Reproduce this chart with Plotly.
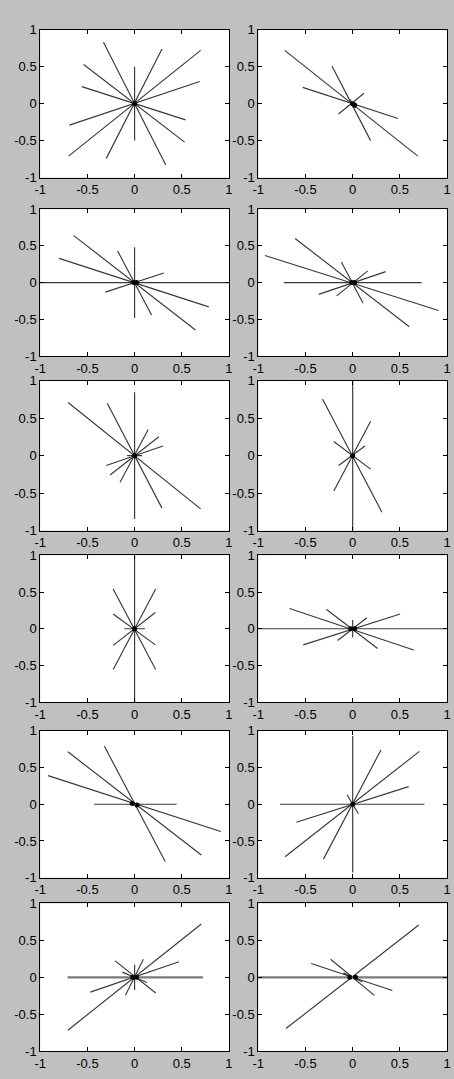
import plotly.graph_objects as go

# ---- data: line segments (x1, y1, x2, y2) through the origin, per panel ----
P1 = [(0, 0.5, 0, -0.5), (-0.33, 0.83, 0.33, -0.83), (0.29, 0.74, -0.30, -0.74),
      (0.70, 0.72, -0.70, -0.71), (0.69, 0.30, -0.69, -0.29),
      (-0.54, 0.53, 0.53, -0.52), (-0.56, 0.23, 0.54, -0.22)]
P2 = [(-0.72, 0.72, 0.69, -0.71), (-0.22, 0.51, 0.19, -0.50), (-0.53, 0.22, 0.48, -0.20),
      (0.12, 0.14, -0.15, -0.14), (-0.03, 0.06, 0.03, -0.06)]
P3 = [(0, 0.48, 0, -0.48), (-1, 0, 1, 0), (-0.645, 0.64, 0.645, -0.645),
      (-0.80, 0.33, 0.786, -0.33), (-0.18, 0.43, 0.18, -0.44), (0.31, 0.13, -0.31, -0.13)]
P4 = [(-0.73, 0, 0.73, 0), (-0.93, 0.37, 0.91, -0.38), (-0.61, 0.60, 0.60, -0.60),
      (-0.12, 0.28, 0.11, -0.28), (0.35, 0.15, -0.36, -0.16), (0.16, 0.16, -0.17, -0.18)]
P5 = [(0, 0.845, 0, -0.845), (-0.705, 0.71, 0.70, -0.71), (-0.29, 0.70, 0.29, -0.70),
      (0.144, 0.35, -0.154, -0.355), (0.257, 0.253, -0.26, -0.258),
      (0.30, 0.13, -0.30, -0.13), (-0.08, 0, 0.08, 0)]
P6 = [(0, 1, 0, -1), (-0.32, 0.755, 0.31, -0.755), (0.19, 0.46, -0.20, -0.47),
      (-0.20, 0.19, 0.19, -0.18), (0.13, 0.13, -0.15, -0.13)]
P7 = [(0, 1, 0, -1), (-0.227, 0.54, 0.223, -0.555), (0.223, 0.54, -0.227, -0.555),
      (-0.227, 0.20, 0.22, -0.22), (0.22, 0.22, -0.227, -0.227), (-0.11, 0, 0.11, 0)]
P8 = [(-1, 0, 1, 0), (-0.67, 0.276, 0.647, -0.29), (0.503, 0.20, -0.524, -0.22),
      (-0.277, 0.262, 0.264, -0.27), (0.15, 0.15, -0.16, -0.16), (0, 0.12, 0, -0.12)]
P9 = [(-0.43, 0, 0.445, 0), (-0.917, 0.39, 0.914, -0.37), (-0.707, 0.714, 0.707, -0.69),
      (-0.32, 0.79, 0.324, -0.78)]
P10 = [(0, 0.93, 0, -0.93), (-0.77, 0, 0.76, 0), (0.707, 0.72, -0.717, -0.715),
       (0.30, 0.74, -0.31, -0.747), (0.593, 0.24, -0.597, -0.244), (-0.06, 0.13, 0.06, -0.13)]
P11 = [(0.707, 0.72, -0.707, -0.715), (0.47, 0.21, -0.47, -0.20), (0.093, 0.244, -0.097, -0.244),
       (-0.207, 0.222, 0.224, -0.213), (0, 0.17, 0, -0.17), (-0.13, 0.07, 0.13, -0.07)]
P12 = [(0.70, 0.707, -0.707, -0.693), (-0.44, 0.187, 0.42, -0.178),
       (-0.234, 0.244, 0.23, -0.244), (-0.10, 0.06, 0.10, -0.06)]

# thick grey horizontal segments (panels 11, 12)
H11 = [(-0.71, 0, 0.724, 0)]
H12 = [(-1, 0, 1, 0)]

# centre dots per panel
D1 = [(0, 0)]
D2 = [(0, 0), (0.02, -0.02)]
D3 = [(-0.01, 0), (0.02, 0)]
D4 = [(-0.01, 0), (0.02, 0)]
D5 = [(0, 0)]
D6 = [(0, 0)]
D7 = [(0, 0)]
D8 = [(-0.02, 0), (0.02, 0)]
D9 = [(-0.025, 0.01), (0.025, -0.01)]
D10 = [(0, 0)]
D11 = [(-0.02, 0), (0.02, 0)]
D12 = [(-0.03, 0), (0.03, 0)]

TICKS = [-1, -0.5, 0, 0.5, 1]
TICK_LABELS = ["-1", "-0.5", "0", "0.5", "1"]

PANELS = [(P1, [], D1), (P2, [], D2), (P3, [], D3), (P4, [], D4),
          (P5, [], D5), (P6, [], D6), (P7, [], D7), (P8, [], D8),
          (P9, [], D9), (P10, [], D10), (P11, H11, D11), (P12, H12, D12)]

# ---- layout (pixels) ----
W, H = 454, 1079
COLS = [(35, 228), (258, 451)]
ROWS = [(23, 173), (205, 354), (379, 531), (556, 705), (734, 883), (909, 1059)]


def seg_xy(segs):
    xs, ys = [], []
    for x1, y1, x2, y2 in segs:
        xs += [x1, x2, None]
        ys += [y1, y2, None]
    return xs, ys


fig = go.Figure()
layout = {}
for i, (segs, thick, dots) in enumerate(PANELS):
    r, c = divmod(i, 2)
    n = "" if i == 0 else str(i + 1)
    xa, ya = "x" + n, "y" + n
    xs, ys = seg_xy(segs)
    fig.add_trace(go.Scatter(x=xs, y=ys, mode="lines", xaxis=xa, yaxis=ya,
                             line=dict(color="#383838", width=1.15), showlegend=False,
                             hoverinfo="skip"))
    if thick:
        tx, ty = seg_xy(thick)
        fig.add_trace(go.Scatter(x=tx, y=ty, mode="lines", xaxis=xa, yaxis=ya,
                                 line=dict(color="#7a7a7a", width=2.2), showlegend=False,
                                 hoverinfo="skip"))
    fig.add_trace(go.Scatter(x=[d[0] for d in dots], y=[d[1] for d in dots], mode="markers",
                             xaxis=xa, yaxis=ya, marker=dict(color="black", size=5),
                             showlegend=False, hoverinfo="skip"))
    x0, x1 = COLS[c]
    y0, y1 = ROWS[r]
    common = dict(range=[-1, 1], showgrid=False, zeroline=False, showline=True,
                  linecolor="black", linewidth=1, mirror="ticks", ticks="inside",
                  ticklen=4, tickcolor="black", tickvals=TICKS, ticktext=TICK_LABELS,
                  tickfont=dict(family="Liberation Sans, Arial", size=13, color="black"),
                  fixedrange=True)
    layout["xaxis" + n] = dict(common, domain=[x0 / W, x1 / W], anchor=ya)
    layout["yaxis" + n] = dict(common, domain=[1 - y1 / H, 1 - y0 / H], anchor=xa)

fig.update_layout(width=W, height=H, margin=dict(l=0, r=0, t=0, b=0),
                  paper_bgcolor="#c0c0c0", plot_bgcolor="white", **layout)
fig.write_html("out.html", config={"displayModeBar": False},
               post_script="document.body.style.margin='0';"
                           "document.body.style.padding='0';"
                           "document.body.style.background='#c0c0c0';")
